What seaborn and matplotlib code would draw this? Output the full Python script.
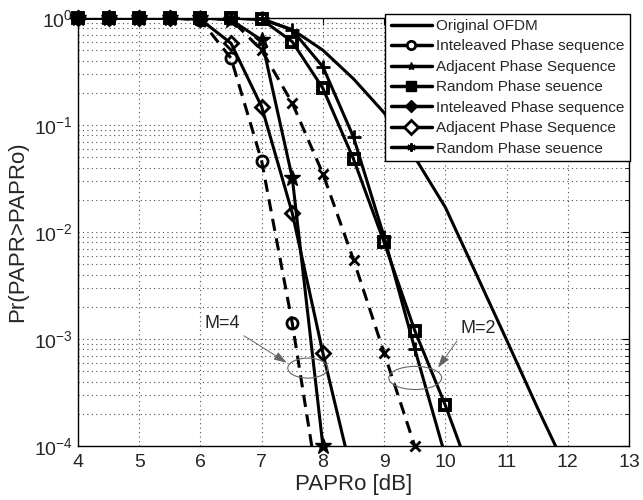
import numpy as np
import pandas as pd
import matplotlib
matplotlib.use('Agg')
import matplotlib.pyplot as plt
from matplotlib.lines import Line2D
from matplotlib.patches import Ellipse
import seaborn as sns

# PAPRo values in dB, one point every 0.5 dB
x_grid = [4, 4.5, 5, 5.5, 6, 6.5, 7, 7.5, 8, 8.5, 9, 9.5, 10, 10.5]

# original OFDM (no markers)
orig_x = [4, 5, 6, 6.5, 7, 7.5, 8, 8.5, 9, 9.5, 10, 10.5, 11, 11.5, 11.8]
orig_y = [1, 1, 1, 0.995, 0.97, 0.78, 0.5, 0.27, 0.13, 0.05, 0.017, 0.0041, 0.00098, 0.00023, 0.0001]

# M=4 curves
circ_y = [1, 1, 1, 1, 0.96, 0.42, 0.046, 0.0014, 2.2e-5]
diam_y = [1, 1, 1, 1, 0.97, 0.58, 0.148, 0.015, 7.4e-4, 4.7e-5]
star_y = [1, 1, 1, 1, 1, 0.96, 0.62, 0.032, 1e-4]

# M=2 curves
cross_y = [1, 1, 1, 1, 1, 0.97, 0.5, 0.16, 0.035, 0.0055, 7.4e-4, 1e-4]
plus_y = [1, 1, 1, 1, 1, 1, 0.99, 0.77, 0.35, 0.077, 0.009, 8.1e-4, 8e-5]
sq_y = [1, 1, 1, 1, 1, 1, 0.97, 0.6, 0.22, 0.048, 0.008, 0.0012, 2.4e-4, 4e-5]

legend_labels = ['Original OFDM', 'Inteleaved Phase sequence', 'Adjacent Phase Sequence',
                 'Random Phase seuence', 'Inteleaved Phase sequence', 'Adjacent Phase Sequence',
                 'Random Phase seuence']

sns.set_style('white')
plt.rcParams['font.family'] = ['Liberation Sans', 'DejaVu Sans']
plt.rcParams['mathtext.fontset'] = 'custom'
plt.rcParams['mathtext.rm'] = 'Liberation Sans'

fig = plt.figure(figsize=(6.43, 5.0), dpi=100)
ax = fig.add_axes([0.1213, 0.108, 0.857, 0.856])

ymin = 1e-4

# lines
sns.lineplot(x=orig_x, y=orig_y, ax=ax, color='k', lw=2.2, errorbar=None)

curves = [
    (circ_y, (0, (4, 2.5)), dict(marker='o', ms=8, mfc='none', mew=2)),
    (diam_y, '-', dict(marker='D', ms=7, mfc='none', mew=2)),
    (star_y, '-', dict(marker='*', ms=12, mfc='k', mew=1)),
    (cross_y, (0, (4, 2.5)), dict(marker='x', ms=7, mew=2)),
    (plus_y, '-', dict(marker='+', ms=10, mew=2)),
    (sq_y, '-', dict(marker='s', ms=7, mfc='none', mew=2.8)),
]

for yv, ls, mk in curves:
    xv = x_grid[:len(yv)]
    sns.lineplot(x=xv, y=yv, ax=ax, color='k', lw=2.2, linestyle=ls, errorbar=None)
    df = pd.DataFrame({'x': xv, 'y': yv})
    df = df[df.y >= ymin * 0.99]
    sns.lineplot(x=df.x, y=df.y, ax=ax, color='k', linestyle='none', errorbar=None,
                 clip_on=False, zorder=5, mec='k', **mk)

ax.set_yscale('log')
ax.set_xlim(4, 13)
ax.set_ylim(ymin, 1)
ax.set_xticks(range(4, 14))
ax.set_yticks([1e-4, 1e-3, 1e-2, 1e-1, 1])
ax.yaxis.set_minor_locator(matplotlib.ticker.LogLocator(base=10, subs=np.arange(2, 10)))
ax.yaxis.set_minor_formatter(matplotlib.ticker.NullFormatter())
ax.tick_params(which='both', direction='in', top=True, right=True, labelsize=14, color='k')
ax.tick_params(which='major', length=5)
ax.tick_params(which='minor', length=3)
ax.tick_params(axis='x', pad=6)

ax.grid(True, which='major', linestyle=(0, (1, 3)), color='0.3', lw=0.8)
ax.grid(True, which='minor', axis='y', linestyle=(0, (1, 3)), color='0.3', lw=0.8)
for s in ax.spines.values():
    s.set_color('k')
    s.set_linewidth(1)

ax.set_xlabel('PAPRo [dB]', fontsize=16, labelpad=2)
ax.set_ylabel('Pr(PAPR>PAPRo)', fontsize=16, labelpad=4)

# ellipses and annotations
ax.add_patch(Ellipse((0.417, 0.182), 0.0726, 0.0467, transform=ax.transAxes,
                     fill=False, ec='0.4', lw=0.8, zorder=6))
ax.add_patch(Ellipse((0.612, 0.159), 0.096, 0.054, transform=ax.transAxes,
                     fill=False, ec='0.4', lw=0.8, zorder=6))
ax.annotate('M=4', xy=(7.41, 6.0e-4), xytext=(6.35, 1.4e-3), fontsize=13,
            ha='center', va='center',
            arrowprops=dict(arrowstyle='-|>,head_length=0.6,head_width=0.2', color='0.4',
                            lw=0.7, relpos=(0.95, 0.0), shrinkA=1, shrinkB=0))
ax.annotate('M=2', xy=(9.88, 5.4e-4), xytext=(10.53, 1.26e-3), fontsize=13,
            ha='center', va='center',
            arrowprops=dict(arrowstyle='-|>,head_length=0.6,head_width=0.2', color='0.4',
                            lw=0.7, relpos=(0.0, 0.0), shrinkA=1, shrinkB=0))

handles = [
    Line2D([], [], color='k', lw=2.5),
    Line2D([], [], color='k', lw=2.5, marker='o', ms=6, mfc='white', mew=2),
    Line2D([], [], color='k', lw=2.5, marker='*', ms=6),
    Line2D([], [], color='k', lw=2.5, marker='s', ms=7),
    Line2D([], [], color='k', lw=2.5, marker='D', ms=6),
    Line2D([], [], color='k', lw=2.5, marker='D', ms=7, mfc='white', mew=2),
    Line2D([], [], color='k', lw=2.5, marker=(6, 2, 0), ms=6, mew=1.5),
]
leg = ax.legend(handles, legend_labels, loc='upper right', bbox_to_anchor=(1.002, 1.01),
                fontsize=11, frameon=True, fancybox=False, edgecolor='k', framealpha=1,
                handlelength=2.7, handletextpad=0.3, labelspacing=0.42, borderpad=0.35,
                borderaxespad=0)
leg.get_frame().set_linewidth(1)
leg.set_zorder(10)

fig.savefig('out.png', dpi=100)
